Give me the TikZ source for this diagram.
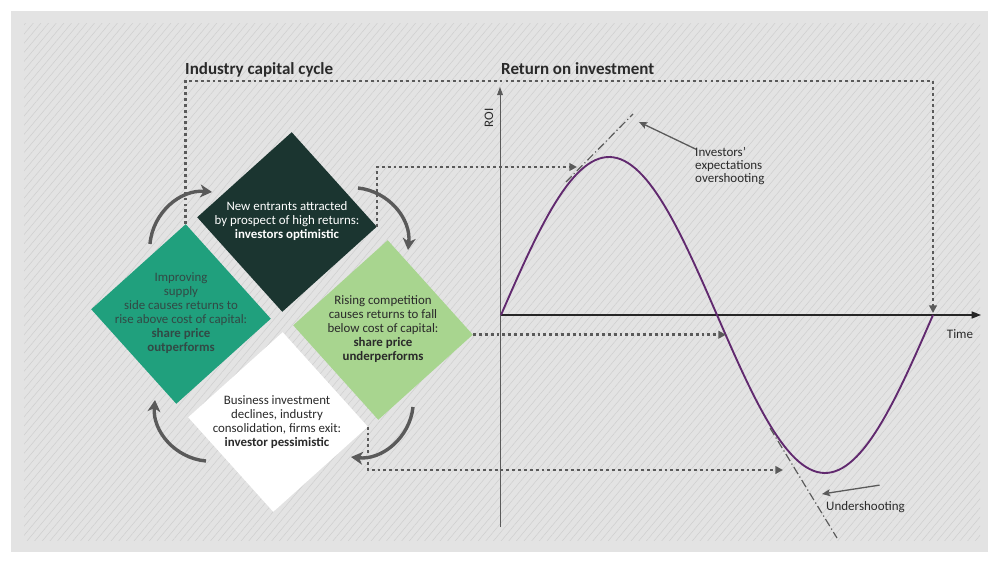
\documentclass[tikz,border=0pt]{standalone}
\usepackage{fontspec}
\setmainfont{Carlito}
\usetikzlibrary{arrows.meta, positioning, shapes.geometric, patterns.meta}
\definecolor{panel}{HTML}{E3E3E3}
\definecolor{hatch}{HTML}{CFCFCF}
\definecolor{optimgreen}{HTML}{1B3530}
\definecolor{outgreen}{HTML}{20A07D}
\definecolor{undergreen}{HTML}{A8D58F}
\definecolor{roipurple}{HTML}{61296F}
\definecolor{linkgray}{HTML}{5A5A5A}
\definecolor{textdark}{HTML}{2A2A2A}

\begin{document}
\begin{tikzpicture}[
    x=0.03cm, y=-0.03cm,
    phase/.style={diamond, aspect=1, minimum size=5.4cm, inner sep=0pt, rotate=-3},
    phasetext/.style={align=center, inner sep=0pt, text=textdark,
                      font=\fontsize{11}{11.9}\selectfont},
    title/.style={anchor=base west, inner sep=0pt, text=textdark,
                  font=\fontsize{14.5}{16}\selectfont\bfseries},
    note/.style={inner sep=0pt, text=textdark, font=\fontsize{11.1}{11.2}\selectfont},
    cyclearr/.style={-{Stealth[length=10pt, width=11pt, inset=3pt]}, line width=2.9pt,
                     linkgray, bend left=45},
    dotlink/.style={-{Triangle[length=6.5pt, width=6.5pt]}, draw=linkgray, line width=2.1pt,
                    dash pattern=on 2.4pt off 2.6pt},
    notearr/.style={-{Stealth[length=7pt, width=6pt, inset=1.5pt]}, draw=linkgray, line width=1.1pt},
    tangent/.style={draw=linkgray, line width=1pt, dash pattern=on 7pt off 2.5pt on 1pt off 2.5pt},
  ]
  % background panel
  \useasboundingbox (0,0) rectangle (1000,564);
  \fill[white] (0,0) rectangle (1000,564);
  \fill[panel] (11,11) rectangle (988,552);
  \fill[pattern={Lines[angle=50, distance=5pt, line width=0.45pt]}, pattern color=hatch]
    (24,24) rectangle (980,540);

  % titles
  \node[title] (cyclettl) at (185,75) {Industry capital cycle};
  \node[title] (roittl) at (501,75) {Return on investment};

  % cycle diamonds
  \node[phase, fill=optimgreen] (optim) at (287,222) {};
  \node[phase, fill=outgreen] (outperf) at (181,314) {};
  \node[phase, fill=undergreen] (underperf) at (383,330) {};
  \node[phase, fill=white] (pessim) at (278,422) {};
  \node[phasetext, text=white] (optimtxt) at (287,221)
    {New entrants attracted\\by prospect of high returns:\\\textbf{investors optimistic}};
  \node[phasetext, text=optimgreen!90] (outtxt) at (181,313)
    {Improving\\supply\\side causes returns to\\rise above cost of capital:\\\textbf{share price}\\\textbf{outperforms}};
  \node[phasetext] (undertxt) at (383,329)
    {Rising competition\\causes returns to fall\\below cost of capital:\\\textbf{share price}\\\textbf{underperforms}};
  \node[phasetext] (pessimtxt) at (277,422)
    {Business investment\\declines, industry\\consolidation, firms exit:\\\textbf{investor pessimistic}};

  % cycle arrows
  \coordinate (arrAs) at (150,244);
  \coordinate (arrAe) at (212,192);
  \coordinate (arrBs) at (358,188);
  \coordinate (arrBe) at (408,250);
  \coordinate (arrCs) at (413,407);
  \coordinate (arrCe) at (351,457);
  \coordinate (arrDs) at (206,461);
  \coordinate (arrDe) at (155,400);
  \draw[cyclearr] (arrAs) to (arrAe);
  \draw[cyclearr] (arrBs) to (arrBe);
  \draw[cyclearr] (arrCs) to (arrCe);
  \draw[cyclearr] (arrDs) to (arrDe);

  % chart axes
  \coordinate (origin) at (501,315);
  \coordinate (ybot) at (500,527);
  \coordinate (ytop) at (500,87);
  \coordinate (xend) at (981,315);
  \draw[linkgray, line width=0.7pt, -{Triangle[length=7pt, width=5pt]}] (ybot) -- (ytop);
  \draw[black!85, line width=1.1pt, -{Triangle[length=8pt, width=6pt]}] (origin) -- (xend);
  \node[note, rotate=90] (roilbl) at (489,118) {ROI};
  \node[note] (timelbl) at (960,334) {Time};

  % return curve
  \draw[roipurple, line width=1.6pt] plot[domain=0:360, samples=120]
    ({501+1.2*\x}, {315-158*sin(\x)});

  % expectation tangents
  \coordinate (overa) at (566,182);
  \coordinate (overb) at (633,114);
  \coordinate (undera) at (770,428);
  \coordinate (underb) at (837,538);
  \draw[tangent] (overa) -- (overb);
  \draw[tangent] (undera) -- (underb);

  % annotations
  \node[note, anchor=north west, align=left] (overlbl) at (695,147)
    {Investors'\\expectations\\overshooting};
  \coordinate (overtip) at (639,122);
  \draw[notearr] ([xshift=1pt, yshift=-2pt]overlbl.north west) -- (overtip);
  \node[note, anchor=west] (underlbl) at (826,507) {Undershooting};
  \coordinate (undertip) at (822,494);
  \draw[notearr] ([shift={(14,-16)}]underlbl.north) -- (undertip);

  % dotted links from cycle to chart
  \coordinate (peakin) at (577,167);
  \coordinate (fallin) at (726,336);
  \coordinate (troughin) at (783,470);
  \coordinate (endzero) at (933,313);
  \draw[dotlink] (outperf.north) -- ++(0,-143) -| (endzero);
  \draw[dotlink] (optim.east) |- (peakin);
  \draw[dotlink] (underperf.east) -- (fallin |- underperf.east);
  \draw[dotlink] (pessim.east) |- (troughin);
\end{tikzpicture}
\end{document}
